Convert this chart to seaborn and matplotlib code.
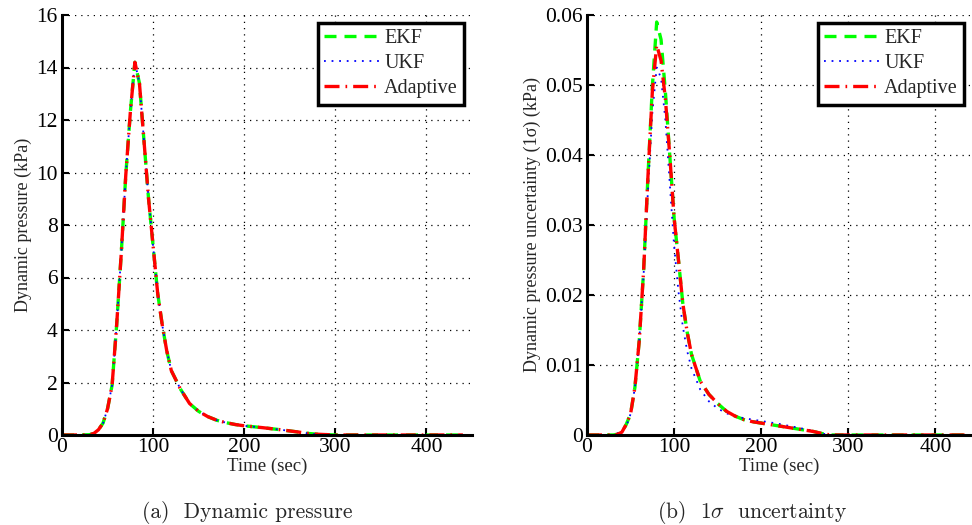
import numpy as np
import pandas as pd
import matplotlib
matplotlib.use("Agg")
import matplotlib.pyplot as plt
import seaborn as sns

# ---- data ----
t = [0, 10, 20, 30, 35, 40, 45, 50, 55, 60, 65, 70, 75, 80, 85, 90, 95, 100,
     105, 110, 115, 120, 130, 140, 150, 160, 170, 180, 190, 200, 220, 240,
     260, 270, 280, 300, 350, 400, 440]

q_ekf = [0, 0, 0, 0.01, 0.06, 0.2, 0.45, 1.0, 1.9, 4.2, 6.9, 9.9, 12.3, 14.2,
         13.4, 11.2, 9.0, 7.2, 5.4, 4.2, 3.2, 2.45, 1.75, 1.2, 0.9, 0.7, 0.56,
         0.47, 0.4, 0.35, 0.28, 0.2, 0.11, 0.06, 0.03, 0, 0, 0, 0]
q_ukf = [0, 0, 0, 0.01, 0.06, 0.2, 0.45, 1.0, 1.9, 4.2, 6.9, 9.9, 12.3, 14.2,
         13.4, 11.2, 9.0, 7.2, 5.4, 4.2, 3.2, 2.45, 1.75, 1.2, 0.9, 0.7, 0.56,
         0.47, 0.4, 0.35, 0.28, 0.2, 0.11, 0.06, 0.03, 0, 0, 0, 0]
q_adp = [0, 0, 0, 0.01, 0.06, 0.2, 0.45, 1.0, 1.9, 4.2, 6.9, 9.9, 12.3, 14.2,
         13.4, 11.2, 9.0, 7.2, 5.4, 4.2, 3.2, 2.45, 1.75, 1.2, 0.9, 0.7, 0.56,
         0.47, 0.4, 0.35, 0.28, 0.2, 0.11, 0.06, 0.03, 0, 0, 0, 0]

s_ekf = [0, 0, 0, 0, 0.0001, 0.0004, 0.0015, 0.003, 0.0068, 0.0135, 0.0235,
         0.037, 0.0497, 0.059, 0.0565, 0.049, 0.040, 0.031, 0.025, 0.0188,
         0.0147, 0.0115, 0.0077, 0.0058, 0.0045, 0.0034, 0.0027, 0.0022,
         0.0019, 0.0017, 0.0013, 0.0009, 0.0005, 0.0002, 0, 0, 0, 0, 0]
s_ukf = [0, 0, 0, 0, 0.0002, 0.0008, 0.0012, 0.003, 0.0068, 0.0135, 0.023,
         0.035, 0.046, 0.0525, 0.051, 0.045, 0.036, 0.027, 0.0205, 0.0155,
         0.012, 0.0095, 0.0065, 0.0048, 0.0038, 0.0031, 0.0027, 0.0024,
         0.0022, 0.002, 0.0016, 0.0011, 0.0006, 0.0002, 0, 0, 0, 0, 0]
s_adp = [0, 0, 0, 0, 0.0001, 0.0004, 0.0015, 0.003, 0.0068, 0.0135, 0.0235,
         0.037, 0.049, 0.0557, 0.0535, 0.048, 0.040, 0.031, 0.025, 0.0188,
         0.0147, 0.0115, 0.0077, 0.0058, 0.0045, 0.0034, 0.0027, 0.0022,
         0.0019, 0.0017, 0.0013, 0.0009, 0.0005, 0.0002, 0, 0, 0, 0, 0]

labels = ["EKF", "UKF", "Adaptive"]
colors = ["#00ff00", "#0000ff", "#ff0000"]

sns.set_style("white")
plt.rcParams["font.family"] = ["Liberation Serif", "DejaVu Serif"]
plt.rcParams["mathtext.fontset"] = "cm"

fig = plt.figure(figsize=(9.72, 5.25), dpi=100)
ax1 = fig.add_axes([62/972, 1-435/525, (472-62)/972, 420/525])
ax2 = fig.add_axes([587/972, 1-435/525, (972-587)/972, 420/525])

styles = [dict(lw=2.4, dashes=(3.6, 2.4)),
          dict(lw=1.3, dashes=(1, 3.2)),
          dict(lw=2.4, dashes=(4.5, 1.8, 0.5, 1.8))]

def draw(ax, series, ylim, yticks, yticklabels, ylabel, xmax):
    for y, lab, c, st in zip(series, labels, colors, styles):
        df = pd.DataFrame({"t": t, "v": y})
        sns.lineplot(data=df, x="t", y="v", ax=ax, color=c, label=lab,
                     lw=st["lw"])
        ax.lines[-1].set_dashes(st["dashes"])
    ax.set_xlim(0, xmax)
    ax.set_ylim(*ylim)
    ax.set_xticks([0, 100, 200, 300, 400])
    ax.set_yticks(yticks)
    ax.set_yticklabels(yticklabels)
    ax.grid(True, color="black", linestyle=(0, (1, 4)), lw=0.9)
    for s in ["top", "right"]:
        ax.spines[s].set_visible(False)
    for s in ["left", "bottom"]:
        ax.spines[s].set_linewidth(2.2)
        ax.spines[s].set_color("black")
        ax.spines[s].set_zorder(5)
    ax.tick_params(direction="in", length=5, width=1.5, labelsize=15.5,
                   left=True, bottom=True, pad=2, colors="black")
    ax.tick_params(axis="y", pad=3)
    ax.set_xlabel("Time (sec)", fontsize=13.5, labelpad=1)
    ax.set_ylabel(ylabel, fontsize=13, labelpad=3)
    leg = ax.legend(loc="upper right", fontsize=14.5, fancybox=False,
                    framealpha=1, edgecolor="black", handlelength=2.8,
                    handletextpad=0.2, borderpad=0.3, labelspacing=0.3,
                    borderaxespad=0.4, bbox_to_anchor=(1.0, 1.0))
    leg.get_frame().set_linewidth(2.5)
    for h, st in zip(leg.get_lines(), styles):
        h.set_dashes(st["dashes"])

draw(ax1, [q_ekf, q_ukf, q_adp], (0, 16), list(range(0, 17, 2)),
     [str(v) for v in range(0, 17, 2)], "Dynamic pressure (kPa)", 450)
draw(ax2, [s_ekf, s_ukf, s_adp], (0, 0.06),
     [0, 0.01, 0.02, 0.03, 0.04, 0.05, 0.06],
     ["0", "0.01", "0.02", "0.03", "0.04", "0.05", "0.06"],
     "Dynamic pressure uncertainty (1σ) (kPa)", 442)

fig.text(247/972, 1-512/525, "(a)  Dynamic pressure", fontfamily="cmr10",
         fontsize=15.5, ha="center", va="center")
fig.text(752/972, 1-512/525, r"(b)  1$\sigma$  uncertainty", fontfamily="cmr10",
         fontsize=15.5, ha="center", va="center")

fig.savefig("out.png", dpi=100)
